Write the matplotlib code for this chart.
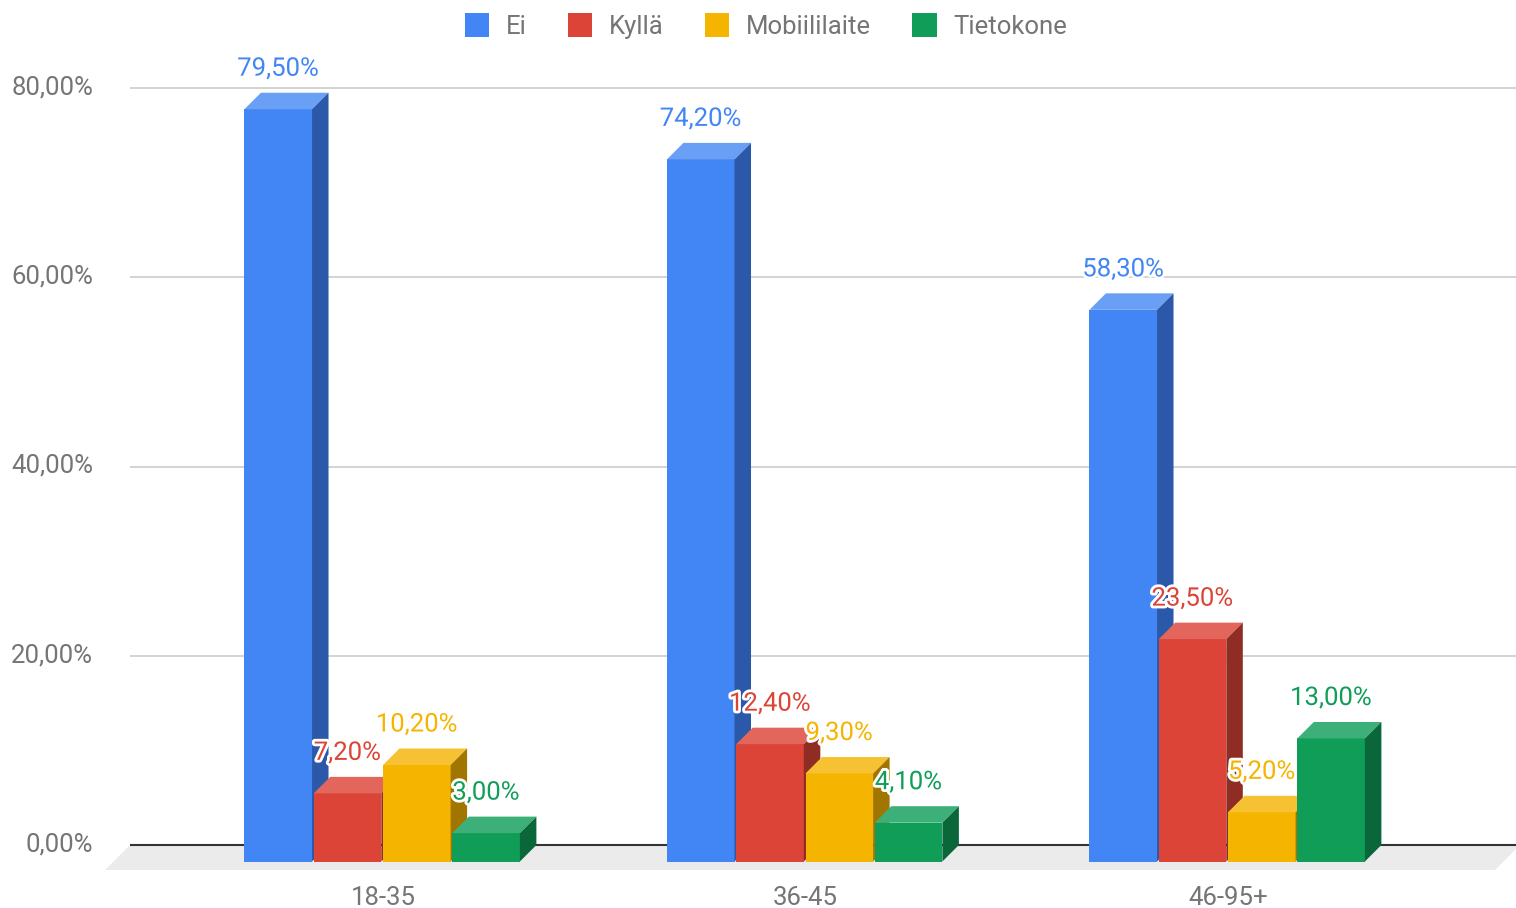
import matplotlib
matplotlib.use("Agg")
import matplotlib.pyplot as plt
import matplotlib.patheffects as pe
import matplotlib.transforms as mtransforms
from matplotlib.patches import Patch, Polygon

# ---- data ----
categories = ["18-35", "36-45", "46-95+"]
series_names = ["Ei", "Kyllä", "Mobiililaite", "Tietokone"]
ei = [79.5, 74.2, 58.3]
kylla = [7.2, 12.4, 23.5]
mobiili = [10.2, 9.3, 5.2]
tietokone = [3.0, 4.1, 13.0]
y_ticks = [0, 20, 40, 60, 80]

series_values = [ei, kylla, mobiili, tietokone]
front_colors = ["#4285F4", "#DB4437", "#F4B400", "#0F9D58"]
top_colors = ["#6A9FF6", "#E2665B", "#F6C233", "#3DB07A"]
side_colors = ["#2B58A8", "#8F2C24", "#A07600", "#0A673A"]

plt.rcParams['font.family'] = ['Roboto', 'DejaVu Sans']

W, H = 1516, 908
fig = plt.figure(figsize=(W / 100, H / 100), dpi=100)

# pixel geometry of plot
px_per_unit_y = 9.4625      # pixels per percent
px_per_group = 422.5        # pixels per category
y0_px = 845                 # back-plane zero line
g0_px = 399.5               # back-plane center of first group
ax_left_px, ax_right_px = 100, 1516
ax_top_px, ax_bot_px = 50, 880

ax = fig.add_axes([ax_left_px / W, (H - ax_bot_px) / H,
                   (ax_right_px - ax_left_px) / W, (ax_bot_px - ax_top_px) / H])
ax.set_xlim((ax_left_px - g0_px) / px_per_group, (ax_right_px - g0_px) / px_per_group)
ax.set_ylim((y0_px - ax_bot_px) / px_per_unit_y, (y0_px - ax_top_px) / px_per_unit_y)
for s in ax.spines.values():
    s.set_visible(False)

depth_px = 16.5
dx = depth_px / px_per_group
dy = depth_px / px_per_unit_y

# floor
fd_px = 25
fdx = fd_px / px_per_group
fdy = fd_px / px_per_unit_y
gx0 = (130 - g0_px) / px_per_group
gx1 = (1520 - g0_px) / px_per_group
ax.add_patch(Polygon([(gx0, 0), (gx1, 0), (gx1 - fdx, -fdy), (gx0 - fdx, -fdy)],
                     closed=True, facecolor="#EBEBEB", edgecolor="none", zorder=0))

# gridlines (back plane)
ax.hlines([t for t in y_ticks if t > 0], gx0, gx1, colors="#CCCCCC", linewidth=1.2, zorder=0.5)
ax.hlines([0], gx0, gx1, colors="#333333", linewidth=1.5, zorder=0.6)

ax.set_yticks(y_ticks)
ax.set_yticklabels([f"{t:.2f}".replace('.', ',') + "%" for t in y_ticks])
groups = list(range(len(categories)))
ax.set_xticks([g - dx for g in groups])
ax.set_xticklabels(categories)
ax.tick_params(axis='both', length=0, labelsize=18.5, labelcolor="#757575")
ax.tick_params(axis='y', pad=5)
ax.tick_params(axis='x', pad=4)
shift = mtransforms.ScaledTranslation(0, 3 / 100, fig.dpi_scale_trans)
for lab in ax.get_yticklabels():
    lab.set_transform(lab.get_transform() + shift)

slot = 0.164
bw = 0.160
n = len(series_values)
for i, (vals, fc, tc, sc) in enumerate(zip(series_values, front_colors, top_colors, side_colors)):
    z = 2 + i
    lefts = [g - dx - slot * n / 2 + slot * i for g in groups]
    centers = [l + bw / 2 for l in lefts]
    ax.bar(centers, vals, width=bw, bottom=-dy, color=fc, edgecolor="none", zorder=z)
    for l, v, c in zip(lefts, vals, centers):
        r = l + bw
        top = Polygon([(l, v - dy), (r, v - dy), (r + dx, v), (l + dx, v)],
                      closed=True, facecolor=tc, edgecolor="none", zorder=z)
        side = Polygon([(r, -dy), (r + dx, 0), (r + dx, v), (r, v - dy)],
                       closed=True, facecolor=sc, edgecolor="none", zorder=z)
        ax.add_patch(top)
        ax.add_patch(side)
        ax.text(c, v + 24 / px_per_unit_y, f"{v:.2f}".replace('.', ',') + "%",
                ha='center', va='center', fontsize=18.5, color=fc, zorder=20,
                path_effects=[pe.withStroke(linewidth=4, foreground='white')])

handles = [Patch(facecolor=c, edgecolor='none') for c in front_colors]
leg = fig.legend(handles, series_names, loc='center', bbox_to_anchor=(766 / W, 1 - 26 / H),
                 ncol=4, frameon=False, fontsize=18.5, handlelength=0.95, handleheight=1.05,
                 handletextpad=0.65, columnspacing=1.6)
for t in leg.get_texts():
    t.set_color("#757575")

fig.savefig("out.png", dpi=100)
